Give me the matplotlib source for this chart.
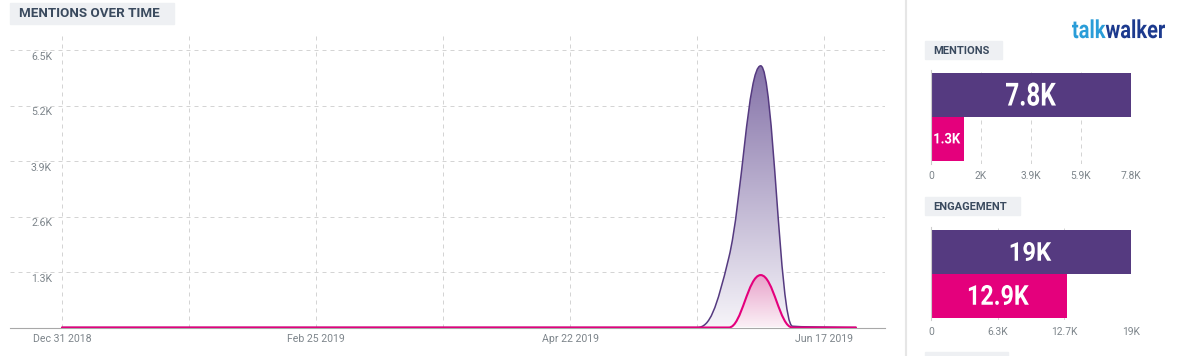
import numpy as np
import pandas as pd
import matplotlib
matplotlib.use("Agg")
import matplotlib.pyplot as plt
import matplotlib.dates as mdates
from matplotlib.path import Path
from matplotlib.patches import PathPatch, Rectangle
from matplotlib.colors import LinearSegmentedColormap
from matplotlib.lines import Line2D
from matplotlib.textpath import TextPath, TextToPath
from matplotlib.font_manager import FontProperties
import matplotlib.transforms as mtrans

# ---- data (weekly) ----
weeks = pd.date_range("2018-12-31", periods=26, freq="7D")
mentions_week = [0] * 21 + [1650, 6140, 30, 10]
mentions_week = mentions_week + [0] * (26 - len(mentions_week))
engagement_week = [0] * 22 + [1230]
engagement_week = engagement_week + [0] * (26 - len(engagement_week))

grid_dates = pd.date_range("2018-12-31", periods=7, freq="28D")
date_labels = ["Dec 31 2018", "", "Feb 25 2019", "", "Apr 22 2019", "", "Jun 17 2019"]
ytick_vals = [1300, 2600, 3900, 5200, 6500]
ytick_labels = ["1.3K", "2.6K", "3.9K", "5.2K", "6.5K"]

mentions_tot = [7800, 1270]
mentions_lbl = ["7.8K", "1.3K"]
mentions_ticks = [0, 1950, 3900, 5850, 7800]
mentions_tick_lbl = ["0", "2K", "3.9K", "5.9K", "7.8K"]

engage_tot = [19000, 12900]
engage_lbl = ["19K", "12.9K"]
engage_ticks = [0, 6333, 12667, 19000]
engage_tick_lbl = ["0", "6.3K", "12.7K", "19K"]

PURPLE = "#553a80"
PINK = "#e4007c"
GRID = "#d4d4d4"
TXT = "#7d858b"
HEAD = "#3a4a5e"
BOX = "#eef0f3"

W, H = 1181, 356
plt.rcParams["font.family"] = ["Roboto", "DejaVu Sans"]
FP = FontProperties(family="Roboto", weight="bold")


def spline(xs, ys, smoothing=1.5):
    # highcharts style spline -> bezier path
    denom = smoothing + 1
    n = len(xs)
    verts = [(xs[0], ys[0])]
    codes = [Path.MOVETO]
    rc = [None] * n
    for i in range(n):
        x, y = xs[i], ys[i]
        lc = (x, y)
        rc[i] = (x, y)
        if 0 < i < n - 1:
            lx, ly = xs[i - 1], ys[i - 1]
            nx, ny = xs[i + 1], ys[i + 1]
            lcx = (smoothing * x + lx) / denom
            lcy = (smoothing * y + ly) / denom
            rcx = (smoothing * x + nx) / denom
            rcy = (smoothing * y + ny) / denom
            corr = 0
            if rcx != lcx:
                corr = (rcy - lcy) * (rcx - x) / (rcx - lcx) + y - rcy
            lcy += corr
            rcy += corr
            if lcy > ly and lcy > y:
                lcy = max(ly, y); rcy = 2 * y - lcy
            elif lcy < ly and lcy < y:
                lcy = min(ly, y); rcy = 2 * y - lcy
            if rcy > ny and rcy > y:
                rcy = max(ny, y); lcy = 2 * y - rcy
            elif rcy < ny and rcy < y:
                rcy = min(ny, y); lcy = 2 * y - rcy
            lc = (lcx, lcy)
            rc[i] = (rcx, rcy)
        if i > 0:
            verts += [rc[i - 1], lc, (x, y)]
            codes += [Path.CURVE4] * 3
    return verts, codes


fig = plt.figure(figsize=(W / 100, H / 100), dpi=100)


def rect_px(x, y, w, h):
    return [x / W, 1 - (y + h) / H, w / W, h / H]


def squeeze_text(parts, cx, cy, w, h):
    # condensed bold text drawn as paths, centred on (cx, cy) in display px
    ttp = TextToPath()
    paths, xoff = [], 0
    for s, col in parts:
        tp = TextPath((xoff, 0), s, size=100, prop=FP)
        paths.append((tp, col))
        xoff += ttp.get_text_width_height_descent(s, FP, ismath=False)[0] * 100 / FP.get_size_in_points()
    ext = mtrans.Bbox.union([p.get_extents() for p, _ in paths])
    sx, sy = w / ext.width, h / ext.height
    tr = (mtrans.Affine2D().translate(-ext.x0 - ext.width / 2, -ext.y0 - ext.height / 2)
          .scale(sx, sy).translate(cx, cy))
    for p, col in paths:
        fig.add_artist(PathPatch(p, transform=tr, facecolor=col, lw=0, zorder=5))


# ---- main timeline ----
ax = fig.add_axes(rect_px(10, 35, 875, 292.5))
xs = mdates.date2num(weeks.to_pydatetime())
x0 = mdates.date2num(grid_dates[0].to_pydatetime())


def area(ys, top_col, bot_col, line_col, lw, z):
    verts, codes = spline(list(xs), list(ys))
    lpath = Path(verts, codes)
    fverts = verts + [(xs[-1], 0), (xs[0], 0), (xs[0], ys[0])]
    fcodes = codes + [Path.LINETO, Path.LINETO, Path.CLOSEPOLY]
    patch = PathPatch(Path(fverts, fcodes), facecolor="none", edgecolor="none")
    ax.add_patch(patch)
    cmap = LinearSegmentedColormap.from_list("g", [bot_col, top_col])
    grad = np.linspace(0, 1, 256).reshape(-1, 1)
    im = ax.imshow(grad, extent=[xs[0], xs[-1], 0, max(ys)], origin="lower",
                   aspect="auto", cmap=cmap, zorder=z, interpolation="bilinear")
    im.set_clip_path(patch)
    ax.add_patch(PathPatch(lpath, facecolor="none", edgecolor=line_col, lw=lw,
                           zorder=z + 0.5, capstyle="round", joinstyle="round"))


area(mentions_week, "#8472a8", "#f6f4f9", PURPLE, 1.1, 2)
area(engagement_week, "#e8a2ca", "#fbf0f6", PINK, 1.5, 3)
ax.set_xlim(x0 - 11.46, x0 + 181.4)
ax.set_ylim(0, 6863)

ax.set_xticks(mdates.date2num(grid_dates.to_pydatetime()))
ax.set_xticklabels(date_labels, fontsize=7.6, color=TXT)
ax.set_yticks(ytick_vals)
ax.set_yticklabels([])
ax.tick_params(length=0)
ax.tick_params(axis="x", pad=5)
ax.grid(True, color=GRID, lw=0.72, ls=(0, (4, 4)), zorder=0)
ax.set_axisbelow(True)
for s in ["top", "right", "left"]:
    ax.spines[s].set_visible(False)
ax.spines["bottom"].set_color("#a8a8a8")
ax.spines["bottom"].set_linewidth(0.8)
off = mtrans.ScaledTranslation(0, -6.5 / 100, fig.dpi_scale_trans)
tr = mtrans.blended_transform_factory(ax.transAxes, ax.transData) + off
for v, l in zip(ytick_vals, ytick_labels):
    ax.text(42 / 875, v, l, transform=tr, ha="right", va="center",
            fontsize=7.6, color=TXT)

# title box
fig.patches.append(Rectangle((10 / W, 1 - 24 / H), 164 / W, 21 / H,
                             transform=fig.transFigure, color=BOX, zorder=0))
fig.text(19 / W, 1 - 13.8 / H, "MENTIONS OVER TIME", va="center", ha="left",
         fontsize=9.6, weight="bold", color=HEAD)

# separator
fig.lines.append(Line2D([906 / W, 906 / W], [0, 1], transform=fig.transFigure,
                        color="#e6e6e6", lw=1.5))


# ---- right panel ----
def box_label(x, y, w, h, text):
    fig.patches.append(Rectangle((x / W, 1 - (y + h) / H), w / W, h / H,
                                 transform=fig.transFigure, color=BOX, zorder=0))
    if text:
        fig.text((x + 8) / W, 1 - (y + h / 2 + 0.5) / H, text, va="center",
                 ha="left", fontsize=8, weight="bold", color=HEAD)


def bars(rect, vals, labels, ticks, tlabels, vmax, sizes, top_pad, bot_pad, bar_h):
    bx = fig.add_axes(rect)
    bx.barh([0, 1], vals, height=1.0, color=[PURPLE, PINK], zorder=2)
    bx.set_xlim(0, vmax)
    bx.set_ylim(1.5 + bot_pad / bar_h, -0.5 - top_pad / bar_h)
    bx.set_xticks(ticks)
    bx.set_xticklabels(tlabels, fontsize=7.4, color=TXT)
    bx.set_yticks([])
    bx.tick_params(length=0, pad=5)
    bx.grid(True, axis="x", color=GRID, lw=0.72, ls=(0, (4, 4)), zorder=0)
    for s in ["top", "right", "bottom"]:
        bx.spines[s].set_visible(False)
    bx.spines["left"].set_color("#cccccc")
    bx.spines["left"].set_linewidth(0.8)
    for i, (v, l) in enumerate(zip(vals, labels)):
        cx, cy = bx.transData.transform((v / 2, i))
        squeeze_text([(l, "white")], cx, cy + 0.8, sizes[i][0], sizes[i][1])
    return bx


box_label(925, 41, 77, 18, "MENTIONS")
bars(rect_px(931, 70, 200, 94), mentions_tot, mentions_lbl, mentions_ticks,
     mentions_tick_lbl, 7800, [(50, 23.3), (26, 10.7)], 3, 3, 44)

box_label(925, 197, 95, 18, "ENGAGEMENT")
bars(rect_px(931, 227, 200, 93), engage_tot, engage_lbl, engage_ticks,
     engage_tick_lbl, 19000, [(40.7, 19), (60, 20)], 3.5, 2.5, 43.5)

box_label(925, 352, 83, 10, "")

# logo
squeeze_text([("talk", "#2a9dd8"), ("walker", "#1c3a8e")],
             (1072 + 1165) / 2, H - (19.3 + 38.3) / 2, 93, 19)

fig.savefig("out.png", dpi=100)
